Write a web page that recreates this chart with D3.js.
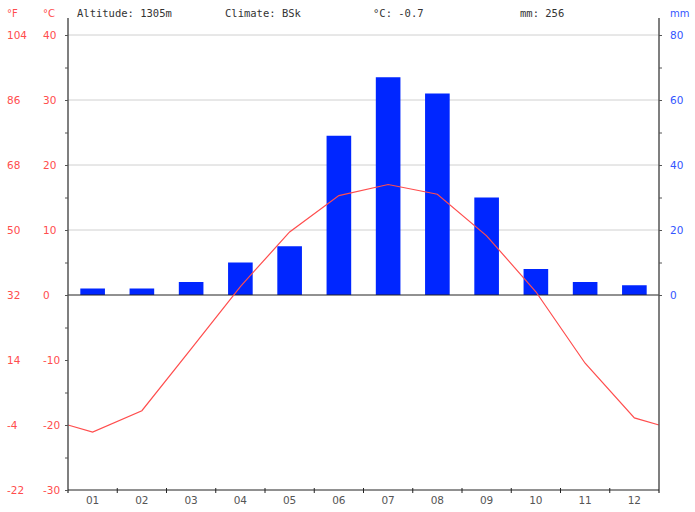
<!DOCTYPE html>
<html>
<head>
<meta charset="utf-8">
<script src="https://cdn.jsdelivr.net/npm/d3@7"></script>
<style>
  body { margin: 0; background: #fff; }
  text { font-family: "DejaVu Sans", sans-serif; }
  text.hd { font-family: "DejaVu Sans Mono", monospace; }
</style>
</head>
<body>
<div id="chart"></div>
<script>
// Climate data
var months = ["01", "02", "03", "04", "05", "06", "07", "08", "09", "10", "11", "12"];
var precip = [2, 2, 4, 10, 15, 49, 67, 62, 30, 8, 4, 3]; // mm
var temp = [-21.1, -17.8, -8.3, 1.3, 9.7, 15.3, 17.0, 15.5, 9.1, 0.5, -10.5, -18.9]; // °C
var cTicks = [40, 30, 20, 10, 0, -10, -20, -30];
var fTicks = [104, 86, 68, 50, 32, 14, -4, -22];
var mmTicks = [80, 60, 40, 20, 0];
var header = ["Altitude: 1305m", "Climate: BSk", "°C: -0.7", "mm: 256"];

function init() {
    var w = 695, h = 512;
    var left = 68, right = 659, top = 35, bottom = 490;
    var red = "#ff4d4d", blue = "#3355ff", grey = "#555";

    var svg = d3.select("#chart").append("svg")
        .attr("width", w)
        .attr("height", h);

    var x = d3.scaleBand().domain(months).range([left, right]);
    var yT = d3.scaleLinear().domain([-30, 40]).range([bottom, top]);
    var yP = d3.scaleLinear().domain([0, 80]).range([yT(0), top]);

    // light grid lines above zero
    svg.selectAll(".grid")
        .data([10, 20, 30, 40])
        .enter().append("line")
        .attr("class", "grid")
        .attr("x1", left).attr("x2", right)
        .attr("y1", function(d) { return yT(d); })
        .attr("y2", function(d) { return yT(d); })
        .attr("stroke", "#d0d0d0")
        .attr("stroke-width", 1);

    // precipitation bars
    var bw = x.bandwidth();
    svg.selectAll(".bar")
        .data(precip)
        .enter().append("rect")
        .attr("class", "bar")
        .attr("x", function(d, i) { return x(months[i]) + bw * 0.25; })
        .attr("y", function(d) { return yP(d); })
        .attr("width", bw * 0.5)
        .attr("height", function(d) { return yP(0) - yP(d); })
        .attr("fill", "#0026ff");

    // zero line
    svg.append("line")
        .attr("x1", left).attr("x2", right)
        .attr("y1", yT(0)).attr("y2", yT(0))
        .attr("stroke", "#222").attr("stroke-width", 1);

    // temperature line, wrapped to the edges with the Dec/Jan mean
    var edge = (temp[0] + temp[11]) / 2;
    var pts = [[left, edge]];
    temp.forEach(function(d, i) { pts.push([x(months[i]) + bw / 2, d]); });
    pts.push([right, edge]);
    svg.append("path")
        .datum(pts)
        .attr("fill", "none")
        .attr("stroke", red)
        .attr("stroke-width", 1.2)
        .attr("d", d3.line()
            .x(function(d) { return d[0]; })
            .y(function(d) { return yT(d[1]); }));

    // left axis
    var gL = svg.append("g")
        .attr("transform", "translate(" + left + ",0)")
        .call(d3.axisLeft(yT).tickValues(d3.range(-30, 41, 5)).tickSize(3).tickFormat(""));
    gL.select(".domain").remove();
    gL.selectAll(".tick line").attr("stroke", grey);
    svg.append("line")
        .attr("x1", left).attr("x2", left)
        .attr("y1", 18).attr("y2", bottom + 3)
        .attr("stroke", grey).attr("stroke-width", 1.5);

    // right axis
    var gR = svg.append("g")
        .attr("transform", "translate(" + right + ",0)")
        .call(d3.axisRight(yP).tickValues(d3.range(0, 81, 10)).tickSize(3).tickFormat(""));
    gR.select(".domain").remove();
    gR.selectAll(".tick line").attr("stroke", grey);
    svg.append("line")
        .attr("x1", right).attr("x2", right)
        .attr("y1", 18).attr("y2", bottom + 3)
        .attr("stroke", grey).attr("stroke-width", 1.5);

    // bottom axis
    svg.append("line")
        .attr("x1", left).attr("x2", right)
        .attr("y1", bottom).attr("y2", bottom)
        .attr("stroke", "#222").attr("stroke-width", 1);
    svg.selectAll(".xtick")
        .data(months.slice(1))
        .enter().append("line")
        .attr("class", "xtick")
        .attr("x1", function(d) { return x(d); })
        .attr("x2", function(d) { return x(d); })
        .attr("y1", bottom - 2).attr("y2", bottom + 3)
        .attr("stroke", "#222");
    svg.selectAll(".xlab")
        .data(months)
        .enter().append("text")
        .attr("class", "xlab")
        .attr("x", function(d) { return x(d) + bw / 2; })
        .attr("y", bottom + 14)
        .attr("text-anchor", "middle")
        .attr("font-size", "10.5px")
        .attr("fill", grey)
        .text(function(d) { return d; });

    // tick labels
    svg.selectAll(".cl")
        .data(cTicks)
        .enter().append("text")
        .attr("x", 43)
        .attr("y", function(d) { return yT(d) + 4; })
        .attr("font-size", "10.5px")
        .attr("fill", red)
        .text(function(d) { return d; });
    svg.selectAll(".fl")
        .data(fTicks)
        .enter().append("text")
        .attr("x", 7)
        .attr("y", function(d, i) { return yT(cTicks[i]) + 4; })
        .attr("font-size", "10.5px")
        .attr("fill", red)
        .text(function(d) { return d; });
    svg.selectAll(".ml")
        .data(mmTicks)
        .enter().append("text")
        .attr("x", 670)
        .attr("y", function(d) { return yP(d) + 4; })
        .attr("font-size", "10.5px")
        .attr("fill", blue)
        .text(function(d) { return d; });

    // unit labels
    svg.append("text").attr("x", 7).attr("y", 17).attr("font-size", "10px").attr("fill", red).text("°F");
    svg.append("text").attr("x", 43).attr("y", 17).attr("font-size", "10px").attr("fill", red).text("°C");
    svg.append("text").attr("x", 670).attr("y", 17).attr("font-size", "10px").attr("fill", blue).text("mm");

    // header
    svg.selectAll(".hd")
        .data(header)
        .enter().append("text")
        .attr("class", "hd")
        .attr("x", function(d, i) { return [77, 225, 373, 520][i]; })
        .attr("y", 17)
        .attr("font-size", "10.5px")
        .attr("fill", "#333")
        .text(function(d) { return d; });
}

window.onload = init;
</script>
</body>
</html>
